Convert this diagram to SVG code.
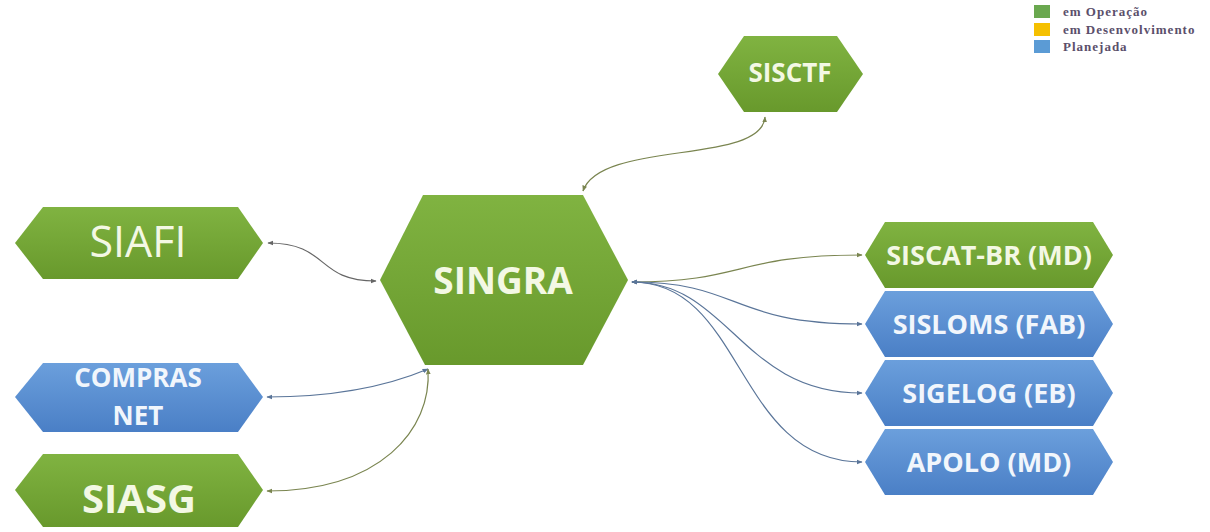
<svg xmlns="http://www.w3.org/2000/svg" width="1210" height="532" viewBox="0 0 1210 532">
<defs>
<linearGradient id="gG" x1="0" y1="0" x2="0" y2="1">
<stop offset="0" stop-color="#80b341"/>
<stop offset="1" stop-color="#68992c"/>
</linearGradient>
<linearGradient id="gB" x1="0" y1="0" x2="0" y2="1">
<stop offset="0" stop-color="#6b9fdc"/>
<stop offset="1" stop-color="#4a7fc6"/>
</linearGradient>
<marker id="aO" viewBox="0 0 10 10" refX="9" refY="5" markerWidth="6" markerHeight="6" markerUnits="userSpaceOnUse" orient="auto-start-reverse">
<path d="M0,1 L10,5 L0,9 Z" fill="#7a8550"/>
</marker>
<marker id="aG" viewBox="0 0 10 10" refX="9" refY="5" markerWidth="6" markerHeight="6" markerUnits="userSpaceOnUse" orient="auto-start-reverse">
<path d="M0,1 L10,5 L0,9 Z" fill="#666"/>
</marker>
<marker id="aB" viewBox="0 0 10 10" refX="9" refY="5" markerWidth="6" markerHeight="6" markerUnits="userSpaceOnUse" orient="auto-start-reverse">
<path d="M0,1 L10,5 L0,9 Z" fill="#5a7599"/>
</marker>
</defs>
<style>
.g{fill:url(#gG)}
.b{fill:url(#gB)}
.t{font-family:"Open Sans","Liberation Sans",sans-serif;font-weight:bold;text-anchor:middle}
.tg{fill:#f3f8e4}
.tb{fill:#f1f6fc}
.c{fill:none;stroke-width:1.2}
.co{stroke:#7a8550;marker-start:url(#aO);marker-end:url(#aO)}
.cg{stroke:#666;marker-start:url(#aG);marker-end:url(#aG)}
.cb{stroke:#5a7599;marker-start:url(#aB);marker-end:url(#aB)}
.lg{font-family:"Liberation Serif",serif;font-weight:bold;font-size:13px;letter-spacing:1px;fill:#5b4f6b}
</style>
<rect width="1210" height="532" fill="#fff"/>

<g id="connectors">
<path class="c co" d="M765,117 C762,165 600,140 583,191"/>
<path class="c cg" d="M268,243 C330,243 315,281 376,281"/>
<path class="c cb" d="M267,397 C340,397 390,385 428,369"/>
<path class="c co" d="M267,491 C380,491 432,430 428,369"/>
<path class="c co" d="M632,282 C745,282 735,255 862,255"/>
<path class="c cb" d="M632,282 C740,282 730,324 862,324"/>
<path class="c cb" d="M632,282 C730,282 740,393 862,393"/>
<path class="c cb" d="M632,282 C745,282 735,462 862,462"/>
</g>

<g id="SISCTF">
<polygon class="g" points="718,74 744,36 837,36 863,74 837,112 744,112"/>
<text class="t tg" x="790" y="82" font-size="26">SISCTF</text>
</g>
<g id="SIAFI">
<polygon class="g" points="15,243 43,207 238,207 263,243 238,279 43,279"/>
<text x="138" y="257" font-family="Open Sans, Liberation Sans, sans-serif" font-size="43" text-anchor="middle" fill="#f3f8e4">SIAFI</text>
</g>
<g id="SINGRA">
<polygon class="g" points="380,280 423,195 583,195 628,280 583,365 425,365"/>
<text class="t tg" x="503" y="294" font-size="37">SINGRA</text>
</g>
<g id="COMPRASNET">
<polygon class="b" points="15,397 43,363 238,363 263,397 238,432 43,432"/>
<text class="t tb" x="138" y="387" font-size="26">COMPRAS</text>
<text class="t tb" x="138" y="425" font-size="26">NET</text>
</g>
<g id="SIASG">
<polygon class="g" points="15,490 43,454 238,454 263,490 238,527 43,527"/>
<text class="t tg" x="139" y="513" font-size="40">SIASG</text>
</g>
<g id="SISCAT">
<polygon class="g" points="865,255 885,222 1093,222 1113,255 1093,288 885,288"/>
<text class="t tg" x="989" y="265" font-size="27">SISCAT-BR (MD)</text>
</g>
<g id="SISLOMS">
<polygon class="b" points="865,324 885,291 1093,291 1113,324 1093,357 885,357"/>
<text class="t tb" x="989" y="334" font-size="27">SISLOMS (FAB)</text>
</g>
<g id="SIGELOG">
<polygon class="b" points="865,393 885,360 1093,360 1113,393 1093,426 885,426"/>
<text class="t tb" x="989" y="403" font-size="27">SIGELOG (EB)</text>
</g>
<g id="APOLO">
<polygon class="b" points="865,462 885,429 1093,429 1113,462 1093,495 885,495"/>
<text class="t tb" x="989" y="472" font-size="27">APOLO (MD)</text>
</g>

<g id="legend">
<rect x="1034" y="5" width="16" height="13" fill="#6aa84f"/>
<text class="lg" x="1063" y="16">em Operação</text>
<rect x="1034" y="23" width="16" height="13" fill="#f5c000"/>
<text class="lg" x="1063" y="34">em Desenvolvimento</text>
<rect x="1034" y="40" width="16" height="13" fill="#5b9bd5"/>
<text class="lg" x="1063" y="51">Planejada</text>
</g>
</svg>
